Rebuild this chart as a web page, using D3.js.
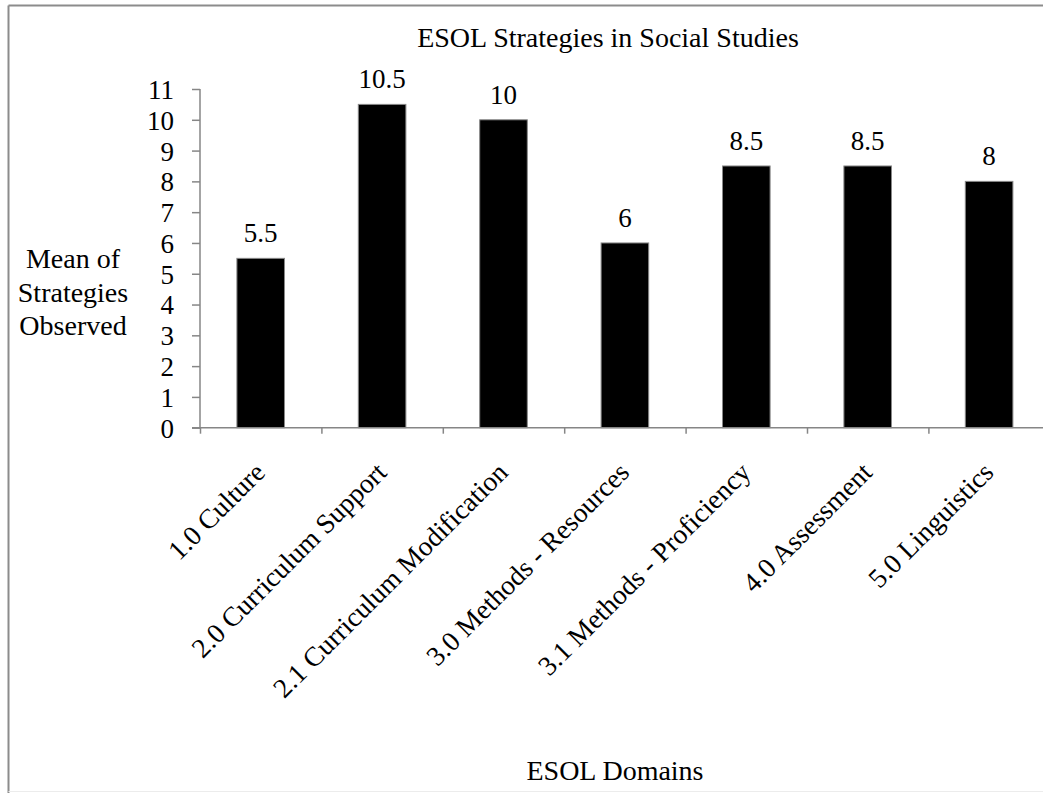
<!DOCTYPE html>
<html>
<head>
<meta charset="utf-8">
<script src="https://cdn.jsdelivr.net/npm/d3@7"></script>
<style>
  body { margin: 0; background: #fff; }
  svg { display: block; font-family: "Liberation Serif", "Times New Roman", serif; }
</style>
</head>
<body>
<svg id="chart" width="1043" height="793"></svg>
<script>
// chart values
var categories = ["1.0 Culture", "2.0 Curriculum Support", "2.1 Curriculum Modification",
    "3.0 Methods - Resources", "3.1 Methods - Proficiency", "4.0 Assessment", "5.0 Linguistics"];
var values = [5.5, 10.5, 10, 6, 8.5, 8.5, 8];
var yTicks = [0, 1, 2, 3, 4, 5, 6, 7, 8, 9, 10, 11];
var yTitleLines = ["Mean of", "Strategies", "Observed"];

var svg = d3.select("#chart");
var axisColor = "#868686";

// outer frame (right side runs off the picture)
svg.append("line").attr("x1", 8.5).attr("x2", 1043).attr("y1", 5.5).attr("y2", 5.5)
    .attr("stroke", "#8c8c8c").attr("stroke-width", 2);
svg.append("line").attr("x1", 8.5).attr("x2", 8.5).attr("y1", 5.5).attr("y2", 793)
    .attr("stroke", "#8c8c8c").attr("stroke-width", 2);
svg.append("line").attr("x1", 8.5).attr("x2", 1043).attr("y1", 791.5).attr("y2", 791.5)
    .attr("stroke", "#ececec").attr("stroke-width", 1);

var left = 200, step = 121.4, yBottom = 427.7, yTop = 89;

var x = d3.scaleBand().domain(categories)
    .range([left, left + step * categories.length])
    .paddingInner(0.608).paddingOuter(0.304);
var xb = d3.scaleLinear().domain([0, categories.length]).range(x.range());
var y = d3.scaleLinear().domain([0, 11]).range([yBottom, yTop]);

// bars
svg.append("g").selectAll("rect").data(values).enter().append("rect")
    .attr("x", function (d, i) { return x(categories[i]); })
    .attr("y", function (d) { return y(d); })
    .attr("width", x.bandwidth())
    .attr("height", function (d) { return y(0) - y(d); })
    .attr("fill", "#000").attr("stroke", "#888").attr("stroke-width", 1);

// y axis
var gy = svg.append("g").attr("transform", "translate(" + left + ",0)")
    .call(d3.axisLeft(y).tickValues(yTicks).tickSize(8).tickPadding(18).tickFormat(d3.format("d")));
gy.select(".domain").attr("stroke", axisColor).attr("stroke-width", 1.5).attr("d", "M0," + yTop + "V" + yBottom);
gy.selectAll(".tick line").attr("stroke", axisColor).attr("stroke-width", 1.5);
gy.selectAll(".tick text").attr("fill", "#000").attr("font-size", 27)
    .attr("font-family", "Liberation Serif").attr("dy", "0.35em");

// x axis, ticks sit between categories
var gx = svg.append("g").attr("transform", "translate(0," + yBottom + ")")
    .call(d3.axisBottom(xb).tickValues(d3.range(0, categories.length + 1)).tickSize(6).tickFormat(""));
gx.select(".domain").attr("stroke", axisColor).attr("stroke-width", 1.5)
    .attr("d", "M" + (left - 8) + ",0H" + xb(categories.length));
gx.selectAll(".tick line").attr("stroke", axisColor).attr("stroke-width", 1.5);

// category labels, rotated
svg.append("g").selectAll("text").data(categories).enter().append("text")
    .attr("transform", function (d) {
        return "translate(" + (x(d) + x.bandwidth() / 2 + 6) + ",474) rotate(-45)";
    })
    .attr("text-anchor", "end").attr("font-size", 27.5).text(function (d) { return d; });

// value labels
svg.append("g").selectAll("text").data(values).enter().append("text")
    .attr("x", function (d, i) { return x(categories[i]) + x.bandwidth() / 2; })
    .attr("y", function (d) { return y(d) - 16; })
    .attr("text-anchor", "middle").attr("font-size", 27).text(function (d) { return d; });

// titles
svg.append("text").attr("x", 608).attr("y", 47).attr("text-anchor", "middle")
    .attr("font-size", 28).text("ESOL Strategies in Social Studies");
svg.append("text").attr("x", 615).attr("y", 780).attr("text-anchor", "middle")
    .attr("font-size", 28).text("ESOL Domains");
svg.append("text").attr("text-anchor", "middle").attr("font-size", 28)
    .selectAll("tspan").data(yTitleLines).enter().append("tspan")
    .attr("x", 73).attr("y", function (d, i) { return 268 + i * 33.5; })
    .text(function (d) { return d; });
</script>
</body>
</html>
